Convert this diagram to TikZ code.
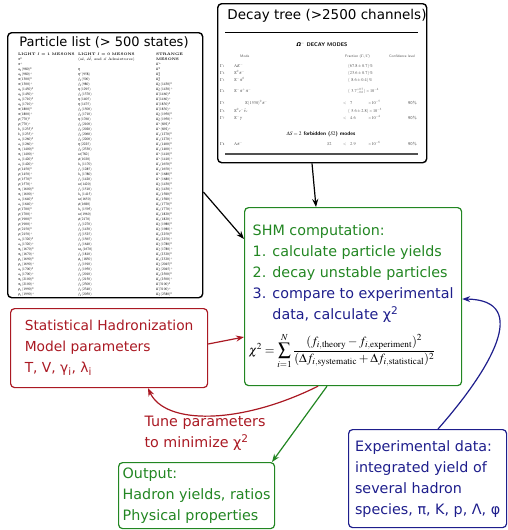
\documentclass[tikz,border=0pt]{standalone}
\usepackage{amsmath}
\usepackage{mathptmx}
\usepackage[no-math]{fontspec}
\newfontfamily\dejavu{DejaVu Sans}
\usetikzlibrary{arrows.meta}
\definecolor{shmgreen}{RGB}{34,134,34}
\definecolor{shmred}{RGB}{170,25,35}
\definecolor{shmblue}{RGB}{30,30,140}
\definecolor{pdggray}{RGB}{80,80,80}

\begin{document}
\begin{tikzpicture}[x=1pt, y=-1pt,
	listbox/.style={draw, line width=1.4pt, rounded corners=4pt, anchor=north west, inner sep=0pt},
	cbox/.style={draw=#1, text=#1, line width=1.2pt, rounded corners=4pt, anchor=north west, align=left, inner sep=0pt, font=\dejavu\fontsize{14.3}{21}\selectfont},
	arr/.style={line width=1.2pt, -{Stealth[length=8pt, width=6pt]}},
	plcol/.style={anchor=north west, align=left, inner sep=0pt, font=\fontsize{3.6}{5}\selectfont},
	pdg/.style={anchor=base west, inner sep=0pt, text=pdggray, font=\sffamily\fontsize{4.3}{5}\selectfont}]
	\useasboundingbox (0,0) rectangle (508,530);

	% particle list
	\node[listbox, minimum width=195, minimum height=265] (plist) at (7,32) {};
	\node[font=\dejavu\fontsize{13}{15}\selectfont] (pltitle) at (104,42) {Particle list (> 500 states)};
	\node[plcol] (col1) at (18,53) {\textbf{LIGHT \textit{I} = 1 MESONS}\\
		$\pi^0$\\ $\pi^+$\\ $a_0(980)^0$\\ $a_0(980)^+$\\ $\pi(1300)^0$\\ $\pi(1300)^+$\\
		$a_0(1450)^0$\\ $a_0(1450)^+$\\ $a_0(1710)^0$\\ $a_0(1710)^+$\\ $\pi(1800)^0$\\ $\pi(1800)^+$\\
		$\rho(770)^0$\\ $\rho(770)^+$\\ $b_1(1235)^0$\\ $b_1(1235)^+$\\ $a_1(1260)^0$\\ $a_1(1260)^+$\\
		$\pi_1(1400)^0$\\ $\pi_1(1400)^+$\\ $a_1(1420)^0$\\ $a_1(1420)^+$\\ $\rho(1450)^0$\\ $\rho(1450)^+$\\
		$\rho(1570)^0$\\ $\rho(1570)^+$\\ $\pi_1(1600)^0$\\ $\pi_1(1600)^+$\\ $a_1(1640)^0$\\ $a_1(1640)^+$\\
		$\rho(1700)^0$\\ $\rho(1700)^+$\\ $\boldsymbol{\rho(1900)^0}$\\ $\boldsymbol{\rho(1900)^+}$\\
		$\rho(2150)^0$\\ $\rho(2150)^+$\\ $a_2(1320)^0$\\ $a_2(1320)^+$\\ $\pi_2(1670)^0$\\ $\pi_2(1670)^+$\\
		$\rho_3(1690)^0$\\ $\rho_3(1690)^+$\\ $\boldsymbol{a_2(1700)^0}$\\ $\boldsymbol{a_2(1700)^+}$\\
		$\pi_2(2100)^0$\\ $\pi_2(2100)^+$\\ $\rho_3(1990)^0$\\ $\rho_3(1990)^+$};
	\node[plcol] (col2) at (78,53) {\textbf{LIGHT \textit{I} = 0 MESONS}\\
		($u\bar u$, $d\bar d$, and $s\bar s$ Admixtures)\\ \\
		$\eta$\\ $\eta'(958)$\\ $\boldsymbol{f_0(500)}$\\ $f_0(980)$\\ $\eta(1295)$\\ $f_0(1370)$\\
		$\eta(1405)$\\ $\eta(1475)$\\ $f_0(1500)$\\ $f_0(1710)$\\ $\eta(1760)$\\ $\boldsymbol{f_0(2100)}$\\
		$f_0(2020)$\\ $f_0(2060)$\\ $f_0(2200)$\\ $\eta(2225)$\\ $\boldsymbol{f_0(2330)}$\\
		$\omega(782)$\\ $\phi(1020)$\\ $h_1(1170)$\\ $f_1(1285)$\\ $h_1(1380)$\\ $f_1(1420)$\\
		$\omega(1420)$\\ $f_1(1510)$\\ $h_1(1415)$\\ $\omega(1650)$\\ $\phi(1680)$\\ $\boldsymbol{h_1(1595)}$\\
		$\omega(1960)$\\ $\phi(2170)$\\ $f_2(1270)$\\ $f_2(1430)$\\ $f_2'(1525)$\\ $f_2(1565)$\\
		$f_2(1640)$\\ $\omega_3(1670)$\\ $f_2(1810)$\\ $\phi_3(1850)$\\ $f_2(1910)$\\ $\boldsymbol{f_2(1950)}$\\
		$f_2(2010)$\\ $f_2(2150)$\\ $f_2(2300)$\\ $f_2(2340)$\\ $f_4(2050)$};
	\node[plcol] (col3) at (156,53) {\textbf{STRANGE}\\ \textbf{MESONS}\\
		$K^\pm$\\ $K^0$\\ $K^0_S$\\ $K^0_L$\\ $K_0^*(1430)^0$\\ $K_0^*(1430)^+$\\ $K(1460)^0$\\ $K(1460)^+$\\
		$K(1830)^0$\\ $K(1830)^+$\\ $K_0^*(1950)^0$\\ $K_0^*(1950)^+$\\ $K^*(892)^0$\\ $K^*(892)^+$\\
		$K_1(1270)^0$\\ $K_1(1270)^+$\\ $K_1(1400)^0$\\ $K_1(1400)^+$\\ $K^*(1410)^0$\\ $K^*(1410)^+$\\
		$K_1(1650)^0$\\ $K_1(1650)^+$\\ $K^*(1680)^0$\\ $K^*(1680)^+$\\ $K_2^*(1430)^0$\\ $K_2^*(1430)^+$\\
		$K_2(1580)^0$\\ $K_2(1580)^+$\\ $K_2(1770)^0$\\ $K_2(1770)^+$\\ $K_2(1820)^0$\\ $K_2(1820)^+$\\
		$K_2^*(1980)^0$\\ $K_2^*(1980)^+$\\ $K_2(2250)^0$\\ $K_2(2250)^+$\\ $K_3^*(1780)^0$\\ $K_3^*(1780)^+$\\
		$K_3(2320)^0$\\ $K_3(2320)^+$\\ $K_4^*(2045)^0$\\ $K_4^*(2045)^+$\\ $K_4(2500)^0$\\ $K_4(2500)^+$\\
		$K(3100)^0$\\ $K(3100)^+$\\ $K_5^*(2380)^0$};

	% decay tree
	\node[listbox, minimum width=209, minimum height=159] (dtree) at (217,3) {};
	\node[font=\dejavu\fontsize{13.5}{15}\selectfont] (dttitle) at (327,16) {Decay tree (>2500 channels)};
	\draw[line width=0.8pt] (225,32) -- (418,32);
	\node[font=\sffamily\bfseries\fontsize{5.3}{6}\selectfont] (omega) at (322,44) {{\dejavu\itshape Ω}$^-$ DECAY MODES};
	\node[pdg, font=\sffamily\fontsize{3.6}{4}\selectfont] (hmode) at (240,57) {Mode};
	\node[pdg, font=\sffamily\fontsize{3.6}{4}\selectfont] (hfrac) at (345,57) {Fraction ($\Gamma_i/\Gamma$)};
	\node[pdg, font=\sffamily\fontsize{3.6}{4}\selectfont] (hconf) at (389,57) {Confidence level};
	\foreach \yy/\gi/\md in {67/1/{$\Lambda K^-$}, 74/2/{$\Xi^0\pi^-$}, 81/3/{$\Xi^-\pi^0$}, 92/4/{$\Xi^-\pi^+\pi^-$},
		112/6/{$\Xi^0 e^-\bar\nu_e$}, 119/7/{$\Xi^-\gamma$}, 145/8/{$\Lambda\pi^-$}}
	{
		\node[pdg] (gam\gi) at (220,\yy) {$\Gamma_{\gi}$};
		\node[pdg] (mode\gi) at (234,\yy) {\md};
	}
	\node[pdg] (gam5) at (220,104) {$\Gamma_5$};
	\node[pdg] (mode5) at (245,104) {$\Xi(1530)^0\pi^-$};
	\node[pdg] (frac1) at (348,67) {$(67.8\pm0.7)\,\%$};
	\node[pdg] (frac2) at (348,74) {$(23.6\pm0.7)\,\%$};
	\node[pdg] (frac3) at (348,81) {$(\;\,8.6\pm0.4)\,\%$};
	\node[pdg] (frac4) at (348,92) {$(\;\,3.7^{+0.7}_{-0.6})\times10^{-4}$};
	\node[pdg] (frac6) at (348,112) {$(\;\,5.6\pm2.8)\times10^{-3}$};
	\foreach \yy/\gi/\vv/\pp in {104/5/7/-5, 119/7/4.6/-4, 145/8/2.9/-6}
	{
		\node[pdg] (lt\gi) at (343,\yy) {$<$};
		\node[pdg] (val\gi) at (350,\yy) {$\vv$};
		\node[pdg] (pow\gi) at (368,\yy) {$\times10^{\pp}$};
		\node[pdg] (cl\gi) at (408,\yy) {90\%};
	}
	\node[font=\sffamily\bfseries\fontsize{5.3}{6}\selectfont] (dsmodes) at (321,134) {$\Delta S = 2$ forbidden ($S2$) modes};
	\node[pdg] (stwo) at (327,145) {$S2$};
	\draw[pdggray, line width=1.4pt] (225,154) -- (418,154);

	% boxes
	\node[cbox=shmgreen, minimum width=217, minimum height=178] (shm) at (244,207) {SHM computation:\\
		1. calculate particle yields\\
		2. decay unstable particles\\
		{\color{shmblue}3. compare to experimental}\\
		{\color{shmblue}\hphantom{3. }data, calculate χ\textsuperscript{2}}\\[10pt]
		\hspace*{-4pt}{\color{black}\fontsize{12.5}{15}\selectfont $\displaystyle\chi^2=\sum_{i=1}^{N}\frac{(f_{i,\mathrm{theory}}-f_{i,\mathrm{experiment}})^2}{(\Delta f_{i,\mathrm{systematic}}+\Delta f_{i,\mathrm{statistical}})^2}$}};
	\node[cbox=shmred, minimum width=197, minimum height=79, font=\dejavu\fontsize{13.8}{21}\selectfont] (param) at (10,308) {Statistical Hadronization\\Model parameters\\T, V, γ\textsubscript{i}, λ\textsubscript{i}};
	\node[cbox=shmgreen, minimum width=156, minimum height=66] (outbox) at (118,462) {Output:\\Hadron yields, ratios\\Physical properties};
	\node[cbox=shmblue, minimum width=158, minimum height=98] (expbox) at (348,429) {Experimental data:\\integrated yield of\\several hadron\\species, π, K, p, Λ, φ};
	\node[text=shmred, align=left, font=\dejavu\fontsize{14.3}{21}\selectfont] (tune) at (205,433) {Tune parameters\\to minimize χ\textsuperscript{2}};

	% connectors
	\draw[arr] (plist.east |- 0,192) -- (shm.west |- 0,239);
	\draw[arr] (312,0 |- dtree.south) -- (316,0 |- shm.north);
	\draw[arr, shmred] (param.east |- 0,344) -- (shm.west |- 0,337);
	\draw[arr, shmred] (shm.south -| 318,0) .. controls (240,425) and (165,425) .. (param.south -| 148,0);
	\draw[arr, shmgreen] (shm.south -| 327,0) -- (outbox.north -| 272,0);
	\draw[arr, shmblue] (expbox.north -| 438,0) .. controls (490,370) and (532,300) .. (shm.east |- 0,299);
\end{tikzpicture}
\end{document}
